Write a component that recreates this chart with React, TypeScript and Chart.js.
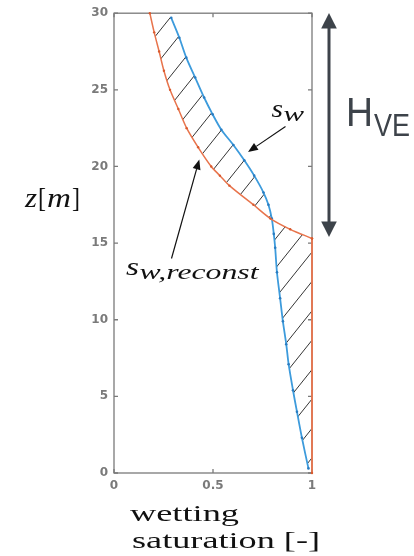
import React, { useEffect, useRef } from "react";
import { Chart, registerables } from "chart.js";

Chart.register(...registerables);

// ---- data ----
// s_w (blue): saturation vs depth z
const swZ = [29.7, 28.4, 27.1, 25.8, 24.5, 23.4, 22.4, 21.4, 20.4, 19.4, 18.3, 17.5, 16.6, 15.6, 14.7, 13.1, 11.4, 9.9, 8.4, 7.1, 5.4, 4.0, 2.3, 0.3];
const swX = [0.289, 0.330, 0.365, 0.410, 0.455, 0.498, 0.542, 0.603, 0.658, 0.708, 0.755, 0.780, 0.797, 0.807, 0.814, 0.823, 0.839, 0.853, 0.870, 0.882, 0.904, 0.924, 0.949, 0.982];
// s_w,reconst (orange)
const recZ = [30, 28.75, 27.5, 26.25, 25, 23.75, 22.5, 21.25, 20, 19.4, 18.75, 17.5, 16.6, 15.9, 15.3, 0];
const recX = [0.181, 0.203, 0.228, 0.252, 0.283, 0.325, 0.367, 0.425, 0.491, 0.535, 0.583, 0.704, 0.79, 0.89, 1.0, 1.0];

const xTicks = [0, 0.5, 1];
const yTicks = [0, 5, 10, 15, 20, 25, 30];
const xTitleLines = ["wetting", "saturation [-]"];
const hatchAnchorZ = 12.5;

const BLUE = "#3d9bdc";
const BLUE_DOT = "#2a7cc0";
const ORANGE = "#e8744c";
const ORANGE_DOT = "#d95a2e";
const AXIS = "#7a7a7a";
const DARK = "#3d434a";

function fitText(ctx: CanvasRenderingContext2D, text: string, font: string, x: number, y: number, width: number, color: string) {
  ctx.save();
  ctx.font = font;
  ctx.fillStyle = color;
  ctx.textAlign = "left";
  ctx.textBaseline = "alphabetic";
  const w = ctx.measureText(text).width || 1;
  ctx.translate(x, y);
  ctx.scale(width / w, 1);
  ctx.fillText(text, 0, 0);
  ctx.restore();
}

function arrow(ctx: CanvasRenderingContext2D, x1: number, y1: number, x2: number, y2: number, head: number, half: number, color: string, lw: number) {
  const dx = x2 - x1, dy = y2 - y1;
  const len = Math.hypot(dx, dy);
  const ux = dx / len, uy = dy / len;
  const bx = x2 - ux * head, by = y2 - uy * head;
  ctx.save();
  ctx.strokeStyle = color;
  ctx.fillStyle = color;
  ctx.lineWidth = lw;
  ctx.beginPath();
  ctx.moveTo(x1, y1);
  ctx.lineTo(bx, by);
  ctx.stroke();
  ctx.beginPath();
  ctx.moveTo(x2, y2);
  ctx.lineTo(bx - uy * half, by + ux * half);
  ctx.lineTo(bx + uy * half, by - ux * half);
  ctx.closePath();
  ctx.fill();
  ctx.restore();
}

const decorPlugin = {
  id: "decor",
  beforeDatasetsDraw(chart: any) {
    const { ctx, chartArea: a, scales } = chart;
    const xs = scales.x, ys = scales.y;
    // hatch between the curves
    ctx.save();
    ctx.beginPath();
    swX.forEach((v, i) => {
      const px = xs.getPixelForValue(v), py = ys.getPixelForValue(swZ[i]);
      if (i === 0) ctx.moveTo(px, py); else ctx.lineTo(px, py);
    });
    for (let i = recX.length - 1; i >= 0; i--) {
      ctx.lineTo(xs.getPixelForValue(recX[i]), ys.getPixelForValue(recZ[i]));
    }
    ctx.closePath();
    ctx.clip();
    const k = 1.25, step = 29.4;
    const C0 = k * xs.getPixelForValue(1) + ys.getPixelForValue(hatchAnchorZ);
    ctx.strokeStyle = "#1e1e1e";
    ctx.lineWidth = 0.9;
    for (let n = -40; n <= 40; n++) {
      const C = C0 + n * step;
      ctx.beginPath();
      ctx.moveTo(a.left, C - k * a.left);
      ctx.lineTo(a.right, C - k * a.right);
      ctx.stroke();
    }
    ctx.restore();

    // axes box and inward ticks
    ctx.save();
    ctx.strokeStyle = AXIS;
    ctx.lineWidth = 1.3;
    ctx.strokeRect(a.left, a.top, a.right - a.left, a.bottom - a.top);
    ctx.beginPath();
    xTicks.forEach((v) => {
      const px = xs.getPixelForValue(v);
      ctx.moveTo(px, a.bottom); ctx.lineTo(px, a.bottom - 4);
      ctx.moveTo(px, a.top); ctx.lineTo(px, a.top + 4);
    });
    yTicks.forEach((v) => {
      const py = ys.getPixelForValue(v);
      ctx.moveTo(a.left, py); ctx.lineTo(a.left + 4, py);
      ctx.moveTo(a.right, py); ctx.lineTo(a.right - 4, py);
    });
    ctx.stroke();
    ctx.restore();
  },
  afterDraw(chart: any) {
    const { ctx } = chart;
    // y axis title z[m]
    fitText(ctx, "z", "italic 28px 'Liberation Serif'", 25, 207, 12, "#111");
    fitText(ctx, "[", "28px 'Liberation Serif'", 38, 207, 8, "#111");
    fitText(ctx, "m", "italic 28px 'Liberation Serif'", 47, 207, 24, "#111");
    fitText(ctx, "]", "28px 'Liberation Serif'", 72, 207, 8, "#111");
    // x axis title
    fitText(ctx, xTitleLines[0], "24px 'Liberation Serif'", 130, 521, 109, "#111");
    fitText(ctx, xTitleLines[1], "24px 'Liberation Serif'", 132, 548, 188, "#111");
    // s_w label
    fitText(ctx, "s", "italic 25px 'Liberation Serif'", 271.5, 117, 11.5, "#111");
    fitText(ctx, "w", "italic 21px 'Liberation Serif'", 283.5, 121, 20.5, "#111");
    arrow(ctx, 285.5, 126.5, 248, 152, 10, 4, "#111", 1.2);
    // s_w,reconst label
    fitText(ctx, "s", "italic 25px 'Liberation Serif'", 126, 275, 13, "#111");
    fitText(ctx, "w,reconst", "italic 20px 'Liberation Serif'", 139.5, 279, 119, "#111");
    arrow(ctx, 171.5, 258.5, 199.3, 159.5, 10, 4, "#111", 1.2);
    // H_VE double arrow
    ctx.save();
    ctx.strokeStyle = DARK;
    ctx.fillStyle = DARK;
    ctx.lineWidth = 3;
    ctx.beginPath();
    ctx.moveTo(329, 26);
    ctx.lineTo(329, 224);
    ctx.stroke();
    ctx.beginPath();
    ctx.moveTo(329, 13);
    ctx.lineTo(321.2, 28.5);
    ctx.lineTo(336.8, 28.5);
    ctx.closePath();
    ctx.fill();
    ctx.beginPath();
    ctx.moveTo(329, 237);
    ctx.lineTo(321.2, 221.5);
    ctx.lineTo(336.8, 221.5);
    ctx.closePath();
    ctx.fill();
    ctx.restore();
    fitText(ctx, "H", "40px 'Liberation Sans'", 346, 126, 27, DARK);
    fitText(ctx, "VE", "32px 'Liberation Sans'", 374, 136, 36, DARK);
  },
};

export default function App() {
  const ref = useRef<HTMLCanvasElement | null>(null);
  useEffect(() => {
    document.body.style.margin = "0";
    const canvas = ref.current;
    if (!canvas) return;
    const tickFont = { family: "'DejaVu Sans'", size: 12, weight: "bold" as const };
    const recPts = recX.map((v, i) => ({ x: v, y: recZ[i] }));
    const common = { showLine: true, pointBorderWidth: 0, clip: 4 };
    const chart = new Chart(canvas, {
      type: "scatter",
      data: {
        datasets: [
          {
            ...common,
            label: "s_w,reconst",
            data: recPts.slice(0, -1),
            borderColor: ORANGE,
            borderWidth: 1.5,
            pointRadius: 1.2,
            pointBackgroundColor: ORANGE_DOT,
            tension: 0.3,
          },
          {
            ...common,
            label: "s_w,reconst (lower)",
            data: recPts.slice(-2),
            borderColor: ORANGE,
            borderWidth: 1.8,
            pointRadius: 1.2,
            pointBackgroundColor: ORANGE_DOT,
            tension: 0,
          },
          {
            ...common,
            label: "s_w",
            data: swX.map((v, i) => ({ x: v, y: swZ[i] })),
            borderColor: BLUE,
            borderWidth: 1.8,
            pointRadius: 1.3,
            pointBackgroundColor: BLUE_DOT,
            tension: 0.3,
          },
        ],
      },
      options: {
        responsive: false,
        animation: false,
        layout: { padding: { top: 9, right: 102, left: 0, bottom: 0 } },
        plugins: { legend: { display: false }, tooltip: { enabled: false } },
        scales: {
          x: {
            type: "linear",
            min: 0,
            max: 1,
            afterBuildTicks: (s: any) => { s.ticks = xTicks.map((v) => ({ value: v })); },
            afterFit: (s: any) => { s.height = 83; },
            ticks: { font: tickFont, color: AXIS, padding: 6, maxRotation: 0, autoSkip: false, callback: (v: any) => String(v) },
            grid: { display: false, drawTicks: false },
            border: { display: false },
          },
          y: {
            type: "linear",
            min: 0,
            max: 30,
            afterBuildTicks: (s: any) => { s.ticks = yTicks.map((v) => ({ value: v })); },
            afterFit: (s: any) => { s.width = 114; },
            ticks: { font: tickFont, color: AXIS, padding: 6, autoSkip: false, callback: (v: any) => String(v) },
            grid: { display: false, drawTicks: false },
            border: { display: false },
          },
        },
      },
      plugins: [decorPlugin],
    });
    return () => chart.destroy();
  }, []);
  return (
    <div style={{ width: 414, height: 556, background: "#fff" }}>
      <canvas ref={ref} width={414} height={556} style={{ display: "block" }} />
    </div>
  );
}
